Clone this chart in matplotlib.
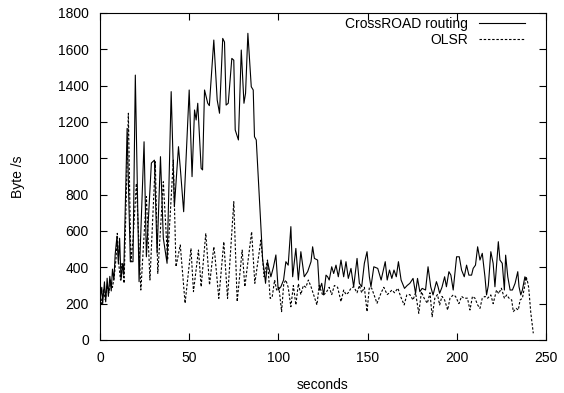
"""Throughput over time: CrossROAD routing vs OLSR."""
import matplotlib
matplotlib.use("Agg")
import matplotlib.pyplot as plt

plt.rcParams["font.family"] = ["Liberation Sans", "DejaVu Sans"]
plt.rcParams["font.size"] = 10

# ---------------------------------------------------------------------------
# CrossROAD routing (seconds, Byte/s)
# ---------------------------------------------------------------------------
cr_t = [0, 1, 1.5, 2.5, 3.2, 4, 4.7, 5.5, 6.3, 7, 7.8, 8.5, 9.5, 10.3, 11,
        11.8, 12.7, 13.3, 15.2, 17, 18.5, 19.8, 21.9, 24.7, 26, 28.8, 30.5,
        32, 33.9, 35.5, 37.6, 39.9, 41.7, 44, 45.1, 46.9, 50, 51.6, 53, 53.9,
        54.8, 56.7, 57.5, 58.6, 60.4, 61.3, 63.8, 65.7, 67, 68.8, 69.8, 70.7,
        71.9, 73.9, 75, 75.8, 77.6, 79.2, 80.7, 81.6, 82.9, 84.8, 85.9, 86.6,
        87.6, 91.2, 92, 92.8, 93.9, 95.8, 97.2, 98.6, 99.9, 101.4, 102.9,
        104.2, 105.5, 107, 108, 109.8, 111.2, 112.6, 114.5, 116.4, 118.3,
        119.2, 120.2, 122, 123, 124.3, 125.4, 126.7, 127.6, 128.5, 129.9, 131,
        132.3, 133.6, 135.1, 136.6, 137.9, 139.2, 140.7, 142.2, 144.1, 145.4,
        146.7, 148.2, 149.7, 151, 151.9, 153.5, 155.7, 157.6, 159.9, 161,
        162.3, 163.6, 164.8, 166.1, 167.3, 168.8, 170.7, 172.2, 173.7, 175.5,
        176.9, 178, 179.3, 180.6, 182.5, 183.9, 185.4, 186.7, 188.6, 189.5,
        190.4, 191.7, 193.2, 194.2, 195.6, 196.7, 198, 199.9, 201.4, 202.7,
        204.2, 205.5, 206.8, 208.3, 209.2, 210.5, 211.7, 213, 214.3, 215.8,
        216.7, 217.7, 219.1, 220.4, 221.4, 223.3, 224.2, 225.5, 226.7, 227.4,
        228.6, 229.9, 231.2, 232.7, 234.2, 234.9, 235.9, 236.8, 238.2, 239.2]
cr_v = [220, 290, 200, 320, 210, 340, 240, 350, 270, 390, 330, 470, 570, 420,
        560, 330, 420, 360, 1165, 431, 431, 1458, 321, 1091, 458, 974, 990,
        478, 1009, 560, 422, 1367, 734, 1064, 936, 706, 1376, 899, 1266, 1211,
        1303, 945, 936, 1376, 1303, 1290, 1651, 1321, 1248, 1660, 1640, 1293,
        1303, 1550, 1540, 1156, 1101, 1596, 1303, 1358, 1688, 1394, 1376, 1119,
        1101, 440, 385, 312, 431, 348, 400, 468, 275, 293, 330,
        431, 412, 624, 348, 504, 330, 486, 348, 376, 431,
        513, 449, 440, 275, 312, 248, 357, 348, 330, 403, 366,
        412, 348, 440, 348, 431, 339, 394, 293, 449, 312,
        293, 422, 486, 348, 293, 403, 394, 330, 431, 330,
        385, 339, 385, 348, 431, 330, 284, 300, 312, 339,
        257, 339, 266, 284, 275, 403, 293, 248, 321, 293,
        257, 290, 348, 293, 376, 357, 275, 458, 458, 385,
        348, 412, 357, 357, 394, 412, 513, 440, 477, 348,
        248, 300, 486, 422, 293, 541, 440, 422, 275, 467,
        348, 275, 275, 312, 376, 293, 248, 275, 348, 330]

# ---------------------------------------------------------------------------
# OLSR (seconds, Byte/s)
# ---------------------------------------------------------------------------
ol_t = [0, 1, 2, 3, 4, 5, 6, 7, 8, 9, 9.7, 10.5, 11.5, 12.3, 13, 13.5, 14.5,
        15.9, 17.3, 18.5, 20.4, 22.9, 26, 28, 31, 32.4, 35.5, 37.9, 41.1,
        42.6, 45, 47.7, 51, 52.4, 55.2, 56.7, 59.3, 61.4, 63.8, 64.4, 66.6,
        69.4, 71.5, 75, 76.9, 79.7, 81.2, 85, 86.8, 90.2, 92, 93.9, 95.4,
        96.5, 97.9, 99, 100.3, 101.8, 103, 104.2, 105.5, 107, 108.4, 109.8,
        111.2, 112.6, 114, 115.4, 116.8, 118.3, 119.7, 121.6, 122.9, 124.9,
        126.7, 128.5, 129.9, 131.4, 133.2, 135.1, 136.6, 137.9, 139.2, 140.7,
        142.2, 144.1, 145.4, 146.7, 148.2, 149.7, 151, 152.3, 153.9, 155.3,
        157.6, 159.1, 161, 162.3, 163.6, 165.1, 167, 168.5, 170.5, 172, 173.7,
        175.5, 176.9, 178.7, 180.2, 181.7, 183.5, 185, 186.2, 187.7, 189.2,
        190.4, 191.7, 193.2, 194.9, 196.2, 198, 199.3, 201.2, 202.7, 204, 206,
        207.4, 208.8, 210.2, 211.7, 213, 214.3, 215.8, 217.3, 219.1, 220.4,
        222.3, 223.5, 225, 226.7, 228, 229.3, 230.8, 231.7, 233.3, 234.5,
        235.5, 236.8, 238, 238.8, 239.5, 240.3, 241.5, 242.9]
ol_v = [250, 200, 280, 220, 300, 260, 330, 290, 350, 450, 587, 420, 330, 420,
        367, 312, 700, 1248, 431, 550, 862, 275, 789, 330, 981, 367, 871, 440,
        990, 403, 523, 202, 504, 266, 495, 293, 587, 303, 513, 468, 229,
        541, 229, 761, 211, 495, 293, 596, 312, 550, 348, 440, 229,
        235, 330, 275, 290, 156, 310, 330, 290, 183, 300, 193,
        310, 250, 300, 290, 330, 293, 250, 193, 300, 245,
        260, 290, 250, 300, 290, 211, 275, 250, 260, 285,
        293, 260, 300, 260, 290, 156, 290, 285, 240, 202,
        260, 290, 250, 260, 275, 260, 285, 240, 193, 248, 250,
        220, 260, 147, 266, 230, 202, 260, 128, 230, 250,
        193, 240, 220, 165, 230, 248, 240, 200, 240, 230, 230,
        165, 240, 230, 193, 174, 230, 240, 230, 248, 200,
        275, 255, 285, 230, 248, 230, 220, 156, 174, 165,
        220, 230, 293, 348, 330, 290, 150, 37]

fig = plt.figure(figsize=(5.64, 3.93), dpi=100)
ax = fig.add_axes([0.1773, 0.1349, 0.7907, 0.8321])

ax.plot(cr_t, cr_v, color="black", lw=0.8, label="CrossROAD routing")
ax.plot(ol_t, ol_v, color="black", lw=0.8, ls=(0, (2.2, 1.6)), label="OLSR")

ax.set_xlim(0, 250)
ax.set_ylim(0, 1800)
ax.set_xticks(range(0, 251, 50))
ax.set_yticks(range(0, 1801, 200))
ax.tick_params(direction="in", top=True, right=True, length=5, width=0.8,
               labelsize=10)
ax.tick_params(axis="x", pad=8)
ax.tick_params(axis="y", pad=8)
for s in ax.spines.values():
    s.set_linewidth(0.8)

ax.set_xlabel("seconds", fontsize=10, labelpad=9)
ax.set_ylabel("Byte /s", fontsize=10, labelpad=24)

ax.legend(loc="upper right", bbox_to_anchor=(0.965, 1.005), frameon=False,
          markerfirst=False, handlelength=3.3, handletextpad=0.8,
          labelspacing=0.15, borderaxespad=0.0, fontsize=10)

fig.savefig("out.png", dpi=100)
